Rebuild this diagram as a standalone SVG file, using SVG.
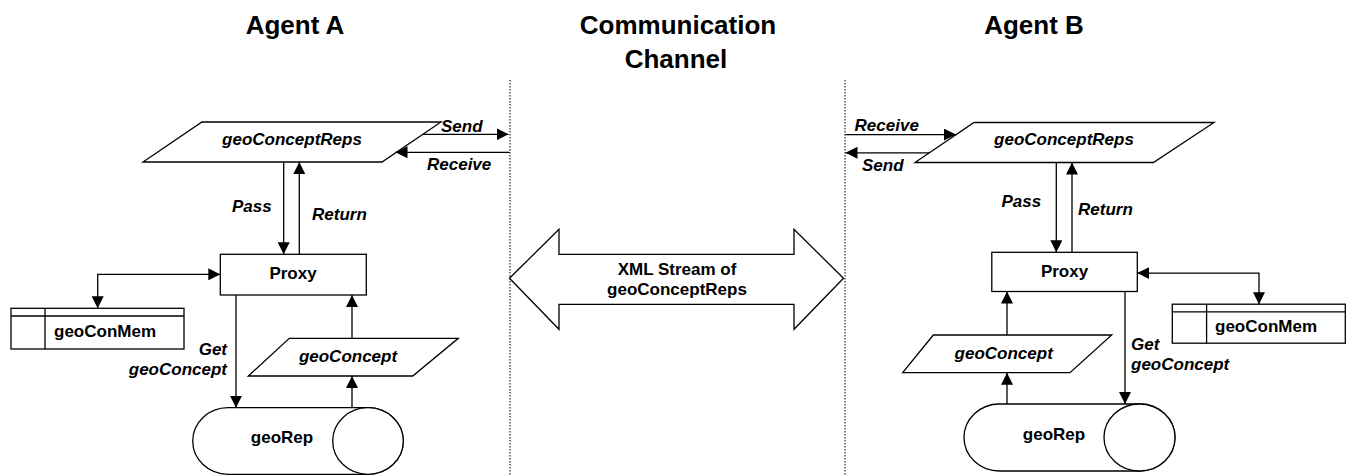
<svg xmlns="http://www.w3.org/2000/svg" width="1347" height="475" viewBox="0 0 1347 475">
<style>
  text { font-family: "Liberation Sans", Arial, sans-serif; font-weight: bold; fill: #000; }
  .title { font-size: 26px; text-anchor: middle; }
  .lbl { font-size: 17px; text-anchor: middle; }
  .it { font-style: italic; }
  .cl { font-size: 17px; font-style: italic; }
  .shape { fill: #fff; stroke: #000; stroke-width: 1.3; }
  .line { fill: none; stroke: #000; stroke-width: 1.3; }
  .conn { fill: none; stroke: #000; stroke-width: 1.3; marker-end: url(#ah); }
  .both { marker-start: url(#ah); }
  .divider { stroke: #000; stroke-width: 1; stroke-dasharray: 1.5 1.5; }
</style>
<defs>
  <marker id="ah" markerUnits="userSpaceOnUse" markerWidth="12" markerHeight="12" refX="12" refY="6" orient="auto-start-reverse">
    <path d="M0,0 L12,6 L0,12 Z" fill="#000"/>
  </marker>
</defs>
<rect width="1347" height="475" fill="#fff"/>

<g id="titles">
  <text class="title" x="295" y="34">Agent A</text>
  <text class="title" x="678" y="34">Communication</text>
  <text class="title" x="676" y="68">Channel</text>
  <text class="title" x="1034" y="34">Agent B</text>
</g>

<g id="dividers">
  <line class="divider" x1="510" y1="80" x2="510" y2="475"/>
  <line class="divider" x1="845" y1="80" x2="845" y2="475"/>
</g>

<g id="channel">
  <polygon class="shape" points="509.5,278.3 559,229.3 559,254.3 794,254.3 794,229.3 843.5,278.3 794,329.3 794,304.3 559,304.3 559,329.3"/>
  <text class="lbl" x="677" y="275">XML Stream of</text>
  <text class="lbl" x="677" y="295">geoConceptReps</text>
</g>

<!-- Agent A -->
<g id="a-reps">
  <polygon class="shape" points="202,122 441,122 382,162 143,162"/>
  <text class="lbl it" x="292" y="145">geoConceptReps</text>
</g>
<g id="a-proxy">
  <rect class="shape" x="220.3" y="254.3" width="146" height="40.7"/>
  <text class="lbl" x="293" y="279">Proxy</text>
</g>
<g id="a-mem">
  <rect class="shape" x="11" y="308.3" width="173" height="40.7"/>
  <line class="line" x1="11" y1="316" x2="184" y2="316"/>
  <line class="line" x1="45" y1="308.3" x2="45" y2="349"/>
  <text class="lbl" x="54" y="337" text-anchor="start" style="text-anchor:start">geoConMem</text>
</g>
<g id="a-concept">
  <polygon class="shape" points="289.3,338.3 458.3,338.3 412.7,376 248.3,376"/>
  <text class="lbl it" x="348" y="362">geoConcept</text>
</g>
<g id="a-rep">
  <path class="shape" d="M228,407.7 H368 A35.3,33.3 0 0 1 368,474.3 H228 A35.3,33.3 0 0 1 228,407.7 Z"/>
  <ellipse class="shape" cx="368" cy="441" rx="35.3" ry="33.3"/>
  <text class="lbl" x="282" y="443">geoRep</text>
</g>

<!-- Agent B -->
<g id="b-reps">
  <polygon class="shape" points="974,122.5 1214,122.5 1153.4,162.5 915,162.5"/>
  <text class="lbl it" x="1064" y="145">geoConceptReps</text>
</g>
<g id="b-proxy">
  <rect class="shape" x="991.8" y="252.3" width="145.5" height="39.2"/>
  <text class="lbl" x="1064.5" y="277">Proxy</text>
</g>
<g id="b-mem">
  <rect class="shape" x="1172.3" y="304.2" width="173" height="39"/>
  <line class="line" x1="1172.3" y1="311.9" x2="1345.3" y2="311.9"/>
  <line class="line" x1="1206.6" y1="304.2" x2="1206.6" y2="343.2"/>
  <text class="lbl" x="1215" y="332" style="text-anchor:start">geoConMem</text>
</g>
<g id="b-concept">
  <polygon class="shape" points="933.3,335 1111.7,335 1070,372.7 902.7,372.7"/>
  <text class="lbl it" x="1003.7" y="358.5">geoConcept</text>
</g>
<g id="b-rep">
  <path class="shape" d="M999.5,404 H1139.5 A35.5,33.5 0 0 1 1139.5,471 H999.5 A35.5,33.5 0 0 1 999.5,404 Z"/>
  <ellipse class="shape" cx="1139.5" cy="437.5" rx="35.5" ry="33.5"/>
  <text class="lbl" x="1054" y="440">geoRep</text>
</g>

<g id="connectors">
  <!-- Agent A -->
  <path class="conn" d="M422.9,134.3 H508.5"/>
  <path class="conn" d="M509.5,152.3 H395.5"/>
  <path class="conn" d="M283.7,162 V254.3"/>
  <path class="conn" d="M299.3,254.3 V162"/>
  <path class="conn both" d="M220.3,274.3 H97.7 V308.3"/>
  <path class="conn" d="M236,295 V407.7"/>
  <path class="conn" d="M352,407.7 V376"/>
  <path class="conn" d="M352,338.3 V295"/>
  <!-- Agent B -->
  <path class="conn" d="M845.5,134.6 H956"/>
  <path class="conn" d="M929.3,152.8 H845.5"/>
  <path class="conn" d="M1056.3,162.5 V252.3"/>
  <path class="conn" d="M1072,252.3 V162.5"/>
  <path class="conn both" d="M1137.3,273.1 H1259 V304.2"/>
  <path class="conn" d="M1007,335 V291.5"/>
  <path class="conn" d="M1007,404 V372.7"/>
  <path class="conn" d="M1125,291.5 V404"/>
</g>

<g id="connector-labels">
  <text class="cl" x="441" y="132">Send</text>
  <text class="cl" x="427" y="170">Receive</text>
  <text class="cl" x="232" y="212">Pass</text>
  <text class="cl" x="312" y="220">Return</text>
  <text class="cl" x="227" y="355" text-anchor="end">Get</text>
  <text class="cl" x="227" y="375" text-anchor="end">geoConcept</text>
  <text class="cl" x="854.6" y="131">Receive</text>
  <text class="cl" x="862" y="170.6">Send</text>
  <text class="cl" x="1001.5" y="207">Pass</text>
  <text class="cl" x="1078" y="215">Return</text>
  <text class="cl" x="1131" y="349.6">Get</text>
  <text class="cl" x="1131" y="370">geoConcept</text>
</g>
</svg>
